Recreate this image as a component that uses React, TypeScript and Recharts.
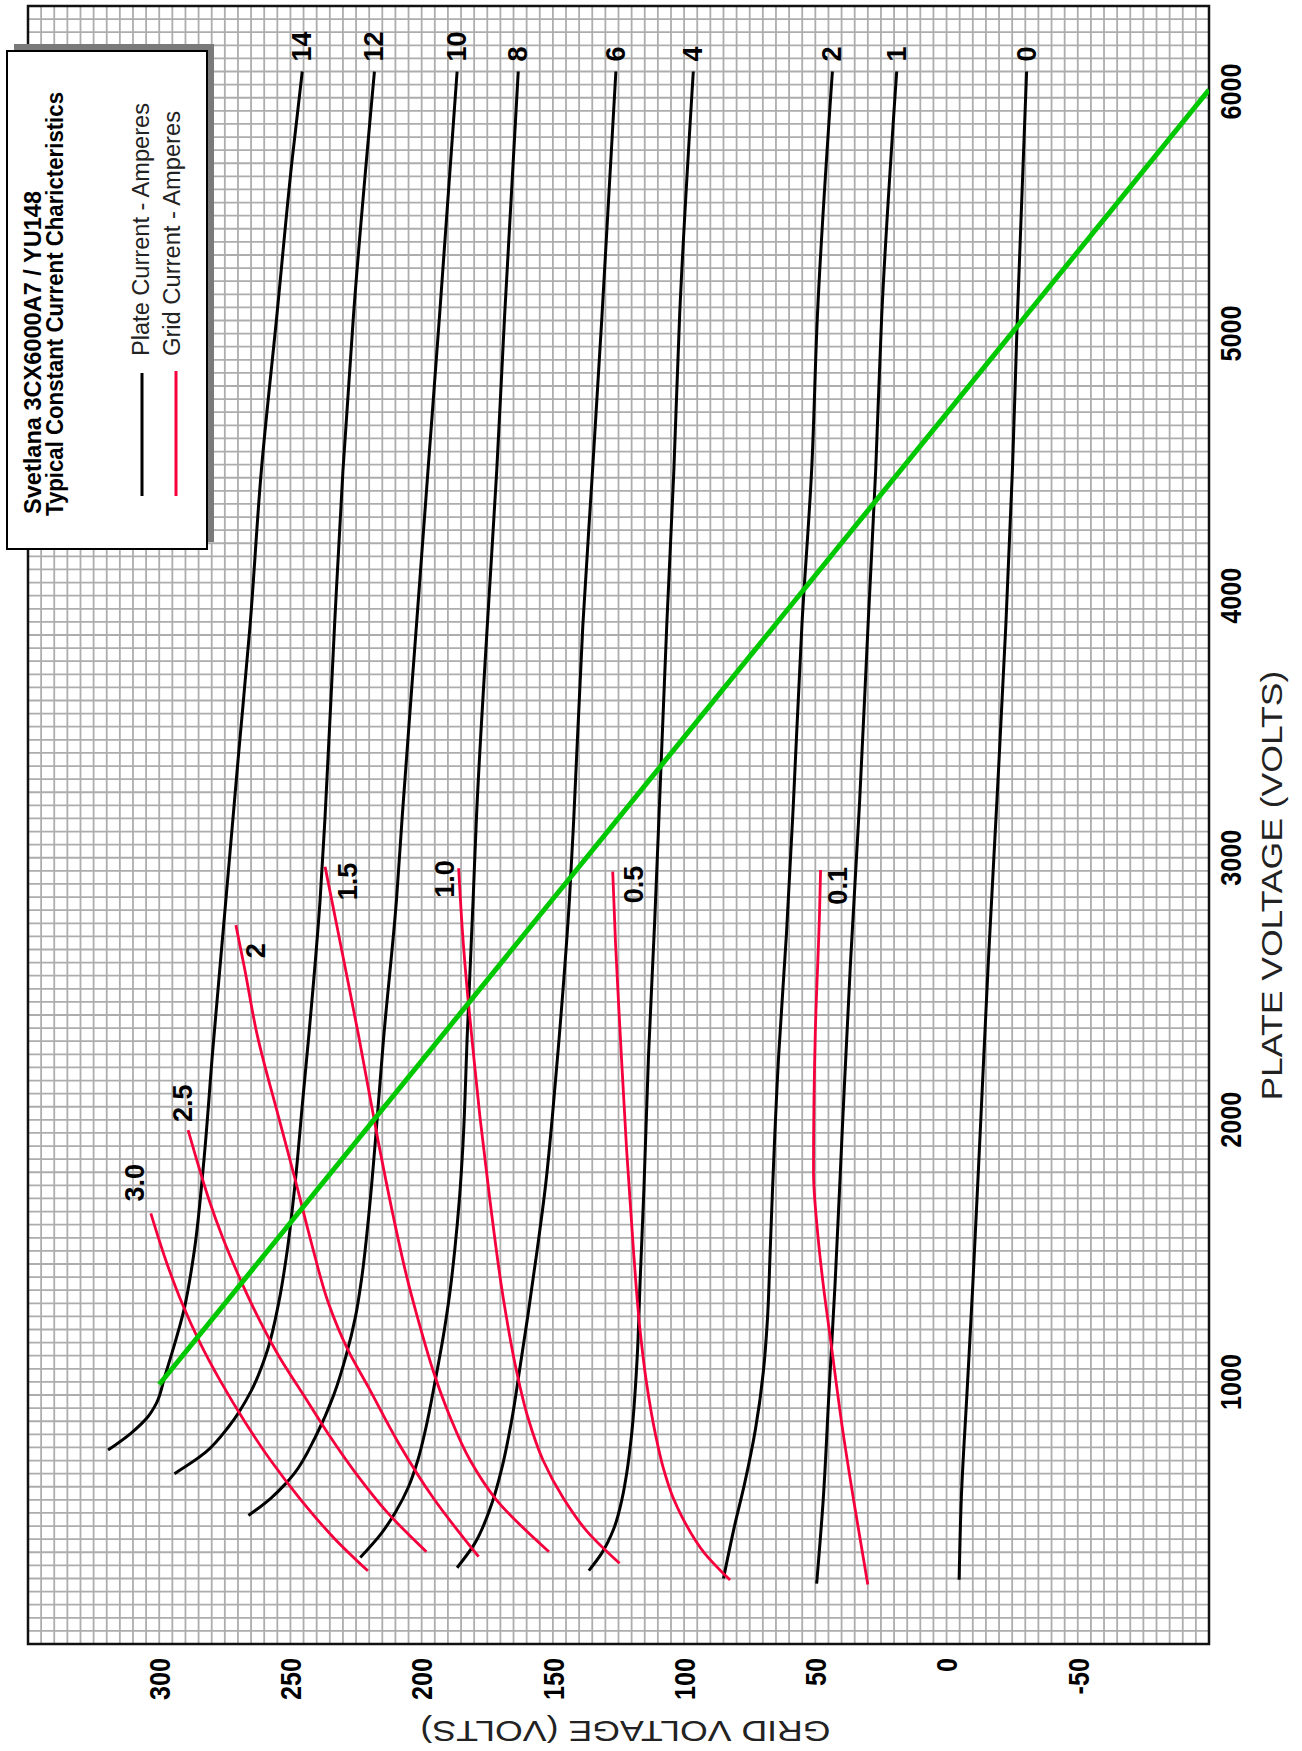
import { CartesianGrid, Label, Line, LineChart, ReferenceArea, XAxis, YAxis } from 'recharts';

// [plate volts, grid volts]
const plate0 = [[245, -4.8], [550, -5.6], [960, -7.8], [1370, -10], [1990, -13], [2600, -15.9], [3220, -19.2], [3890, -22.6], [4480, -25.1], [5070, -27], [6000, -30.5]];
const plate1 = [[230, 49.5], [550, 47], [960, 44.8], [1370, 42.5], [1990, 39.6], [2600, 36.6], [3200, 33.2], [3890, 29.9], [4480, 27], [5070, 24.7], [6000, 19]];
const plate2 = [[250, 85], [450, 80.8], [610, 77], [820, 72.8], [1040, 69.8], [1230, 68.3], [1500, 67.2], [1660, 66.6], [2240, 64], [2710, 61], [3200, 58.4], [3890, 55.1], [4480, 51.4], [5070, 49.2], [6000, 43.5]];
const plate4 = [[280, 136.3], [345, 131.5], [440, 126.8], [556, 123.6], [650, 121.9], [800, 120], [1090, 117.9], [1400, 116.7], [1740, 115.3], [2235, 113.6], [2760, 111.2], [3200, 109.4], [3890, 106.6], [4480, 103.9], [5070, 101.7], [6000, 96.5]];
const plate6 = [[291, 186.5], [380, 180], [529, 173.5], [677, 169.3], [842, 165.9], [1058, 162.5], [1249, 159.6], [1503, 156], [1758, 152.7], [2012, 150.2], [2266, 148], [2839, 143.7], [3159, 142], [3885, 138.6], [4476, 134.9], [5067, 131.3], [6000, 126]];
const plate8 = [[330, 223.4], [420, 215.5], [503, 210], [600, 205], [700, 201.5], [829, 198.3], [996, 195], [1184, 191.6], [1345, 189.2], [1503, 187.4], [1700, 185.6], [1900, 184.3], [2330, 182.6], [2839, 180.4], [3159, 179.1], [3885, 175], [4476, 171.4], [5067, 168.4], [6000, 163.2]];
const plate10 = [[490, 266], [556, 257.5], [610, 252], [651, 248.5], [790, 240.5], [950, 233.5], [1100, 228.8], [1250, 225.2], [1400, 222.8], [1631, 220.2], [1948, 217.4], [2300, 214.6], [2839, 209.6], [3159, 207.4], [3885, 202], [4476, 197.6], [5067, 193.2], [6000, 186.5]];
const plate12 = [[650, 294.2], [730, 282.5], [830, 273.5], [965, 265], [1120, 258.8], [1311, 254.3], [1503, 251.2], [1760, 248.2], [2076, 245.3], [2300, 243.2], [2839, 238.7], [3159, 236.8], [3885, 233.2], [4476, 230], [5067, 226], [6000, 218]];
const plate14 = [[740, 319.5], [804, 310.8], [867, 304.3], [918, 301.1], [1020, 297.9], [1122, 294.8], [1274, 290.6], [1503, 286.6], [1821, 283.2], [2266, 279.6], [2839, 274.6], [3392, 269.8], [3885, 265.4], [4476, 261.1], [5067, 255.2], [5659, 249.4], [6000, 245.5]];

const grid30 = [[279, 220.5], [400, 233], [556, 246.5], [700, 257.5], [850, 267.5], [1000, 276.5], [1150, 284.5], [1300, 291.3], [1450, 297], [1643, 303.2]];
const grid25 = [[352, 198.2], [503, 213.2], [650, 225], [800, 235.5], [950, 245], [1100, 254.5], [1250, 262.5], [1400, 269.5], [1550, 275.8], [1700, 281.2], [1850, 285.8], [1961, 289]];
const grid20 = [[333, 178.3], [556, 195.5], [770, 209], [982, 220.4], [1122, 228.1], [1300, 235.5], [1530, 242], [1780, 248.4], [2010, 254.5], [2330, 262.8], [2584, 267.6], [2743, 270.8]];
const grid15 = [[352, 151.5], [556, 172], [702, 181.6], [867, 189.2], [1039, 195.5], [1211, 200.6], [1402, 205.7], [1631, 210.8], [1910, 216.4], [2330, 224.2], [2584, 229.2], [2775, 233], [2966, 236.8]];
const grid10 = [[308, 124.6], [430, 137], [556, 146], [702, 153.8], [867, 159.6], [1058, 164.2], [1313, 168.8], [1694, 174], [2012, 177.8], [2266, 180.4], [2457, 182.3], [2724, 184.5], [2960, 185.9]];
const grid05 = [[244, 82.5], [345, 92.1], [489, 101], [556, 104.1], [674, 108], [804, 111], [995, 114.3], [1208, 116.9], [1503, 119.3], [1885, 121.9], [2337, 124.4], [2666, 126.1], [2947, 127.2]];
const grid01 = [[227, 30], [530, 35.1], [818, 39.6], [1146, 44], [1372, 47], [1577, 49.2], [1803, 50.7], [2337, 50], [2789, 48.4], [2953, 48]];

const loadLine = [[990, 300], [5930, -100]];

const plateCurves = [
  { name: '14', data: plate14 },
  { name: '12', data: plate12 },
  { name: '10', data: plate10 },
  { name: '8', data: plate8 },
  { name: '6', data: plate6 },
  { name: '4', data: plate4 },
  { name: '2', data: plate2 },
  { name: '1', data: plate1 },
  { name: '0', data: plate0 },
];

const gridCurves = [
  { name: '3.0', data: grid30 },
  { name: '2.5', data: grid25 },
  { name: '2', data: grid20 },
  { name: '1.5', data: grid15 },
  { name: '1.0', data: grid10 },
  { name: '0.5', data: grid05 },
  { name: '0.1', data: grid01 },
];

const plateTicks = [1000, 2000, 3000, 4000, 5000, 6000];
const gridTicks = [-50, 0, 50, 100, 150, 200, 250, 300];

// graph paper: 50 V plate, 5 V grid
const plateLines = Array.from({ length: 126 }, (_, i) => i * 50);
const gridLines = Array.from({ length: 91 }, (_, i) => -100 + i * 5);

// where each curve's name sits relative to its end point
const labelPos: Record<string, [number, number, 'start' | 'end']> = {
  '3.0': [12, -16, 'start'],
  '2.5': [8, -5, 'start'],
  '2': [-18, 20, 'end'],
  '1.5': [4, 23, 'end'],
  '1.0': [8, -14, 'end'],
  '0.5': [6, 21, 'end'],
  '0.1': [3, 17, 'end'],
};

const W = 1751;
const H = 1302;
const SANS = "'Liberation Sans', Arial, Helvetica, sans-serif";

const toPts = (a: number[][]) => a.map(([plate, grid]) => ({ plate, grid }));

function endLabel(text: string, count: number, dx: number, dy: number, anchor: 'start' | 'end') {
  return (props: any) => {
    if (props.index !== count - 1) return null;
    return (
      <text
        x={props.x + dx}
        y={props.y + dy}
        textAnchor={anchor}
        dominantBaseline="central"
        fontFamily={SANS}
        fontWeight={700}
        fontSize={27}
        fill="#000"
      >
        {text}
      </text>
    );
  };
}

const PlateTick = (props: any) => {
  const v = props.payload?.value;
  if (!plateTicks.includes(v)) return null;
  const dx = v === 6000 ? -20 : 0;
  return (
    <text
      transform={`translate(${props.x + dx} ${props.y}) scale(0.84 1)`}
      textAnchor="middle"
      dy="0.71em"
      fontFamily={SANS}
      fontWeight={700}
      fontSize={30}
      fill="#000"
    >
      {v}
    </text>
  );
};

const GridTick = (props: any) => {
  const v = props.payload?.value;
  if (!gridTicks.includes(v)) return null;
  return (
    <text
      transform={`translate(${props.x} ${props.y}) scale(0.84 1)`}
      textAnchor="end"
      dy="0.36em"
      fontFamily={SANS}
      fontWeight={700}
      fontSize={30}
      fill="#000"
    >
      {v}
    </text>
  );
};

const xTitle = (p: any) => {
  const vb = p.viewBox || { x: 107, y: 1209, width: 1638, height: 60 };
  return (
    <text
      x={vb.x + vb.width * 0.463}
      y={vb.y + 62}
      textAnchor="middle"
      dominantBaseline="central"
      textLength={430}
      lengthAdjust="spacingAndGlyphs"
      fontFamily={SANS}
      fontSize={30}
      fill="#222"
    >
      PLATE VOLTAGE (VOLTS)
    </text>
  );
};

const yTitle = (p: any) => {
  const vb = p.viewBox || { x: 27, y: 28, width: 80, height: 1181 };
  const cx = vb.x - 7;
  const cy = vb.y + vb.height / 2 + 7;
  return (
    <text
      x={cx}
      y={cy}
      transform={`rotate(-90 ${cx} ${cy})`}
      textAnchor="middle"
      dominantBaseline="central"
      textLength={410}
      lengthAdjust="spacingAndGlyphs"
      fontFamily={SANS}
      fontSize={30}
      fill="#222"
    >
      GRID VOLTAGE (VOLTS)
    </text>
  );
};

export default function App() {
  return (
    <div style={{ position: 'absolute', left: 0, top: 0, width: 1302, height: 1751, overflow: 'hidden', background: '#fff' }}>
      <div
        style={{
          position: 'absolute',
          left: 0,
          top: 0,
          width: W,
          height: H,
          transformOrigin: '0 0',
          transform: `translateY(${W}px) rotate(-90deg)`,
        }}
      >
        <LineChart width={W} height={H} margin={{ top: 28, right: 6, bottom: 33, left: 27 }}>
          <CartesianGrid stroke="#adadad" strokeWidth={1.8} />
          <XAxis
            dataKey="plate"
            type="number"
            domain={[0, 6250]}
            ticks={plateLines}
            interval={0}
            tickLine={false}
            axisLine={false}
            tickSize={0}
            tickMargin={11}
            height={60}
            tick={PlateTick}
            allowDataOverflow
          >
            <Label content={xTitle} />
          </XAxis>
          <YAxis
            type="number"
            domain={[-100, 350]}
            ticks={gridLines}
            interval={0}
            tickLine={false}
            axisLine={false}
            tickSize={0}
            tickMargin={14}
            width={80}
            tick={GridTick}
            allowDataOverflow
          >
            <Label content={yTitle} />
          </YAxis>
          <ReferenceArea x1={0} x2={6250} y1={-100} y2={350} fill="none" stroke="#111" strokeWidth={2.5} ifOverflow="visible" />
          {plateCurves.map((c) => (
            <Line
              key={'p' + c.name}
              data={toPts(c.data)}
              dataKey="grid"
              type="monotone"
              stroke="#000"
              strokeWidth={3}
              dot={false}
              isAnimationActive={false}
              label={endLabel(c.name, c.data.length, 10, 0, 'start')}
            />
          ))}
          {gridCurves.map((c) => {
            const [dx, dy, anchor] = labelPos[c.name];
            return (
              <Line
                key={'g' + c.name}
                data={toPts(c.data)}
                dataKey="grid"
                type="monotone"
                stroke="#f5003c"
                strokeWidth={2.8}
                dot={false}
                isAnimationActive={false}
                label={endLabel(c.name, c.data.length, dx, dy, anchor)}
              />
            );
          })}
          <Line data={toPts(loadLine)} dataKey="grid" type="linear" stroke="#00c800" strokeWidth={5} dot={false} isAnimationActive={false} />
        </LineChart>

        <svg width={W} height={H} style={{ position: 'absolute', left: 0, top: 0, pointerEvents: 'none' }}>
          <rect x={1209} y={14} width={498} height={200} fill="#7a7a7a" />
          <rect x={1202} y={7} width={498} height={200} fill="#fff" stroke="#000" strokeWidth={2} />
          <text x={1237} y={41} textLength={323} lengthAdjust="spacingAndGlyphs" fontFamily={SANS} fontWeight={700} fontSize={23} fill="#000">
            Svetlana 3CX6000A7 / YU148
          </text>
          <text x={1235} y={63} textLength={424} lengthAdjust="spacingAndGlyphs" fontFamily={SANS} fontWeight={700} fontSize={23} fill="#000">
            Typical Constant Current Charicteristics
          </text>
          <line x1={1255} y1={142} x2={1378} y2={142} stroke="#000" strokeWidth={3} />
          <line x1={1255} y1={176} x2={1380} y2={176} stroke="#f5003c" strokeWidth={3} />
          <text x={1395} y={149} textLength={253} lengthAdjust="spacingAndGlyphs" fontFamily={SANS} fontSize={23} fill="#222">
            Plate Current - Amperes
          </text>
          <text x={1395} y={180} textLength={245} lengthAdjust="spacingAndGlyphs" fontFamily={SANS} fontSize={23} fill="#222">
            Grid Current - Amperes
          </text>
        </svg>
      </div>
    </div>
  );
}
